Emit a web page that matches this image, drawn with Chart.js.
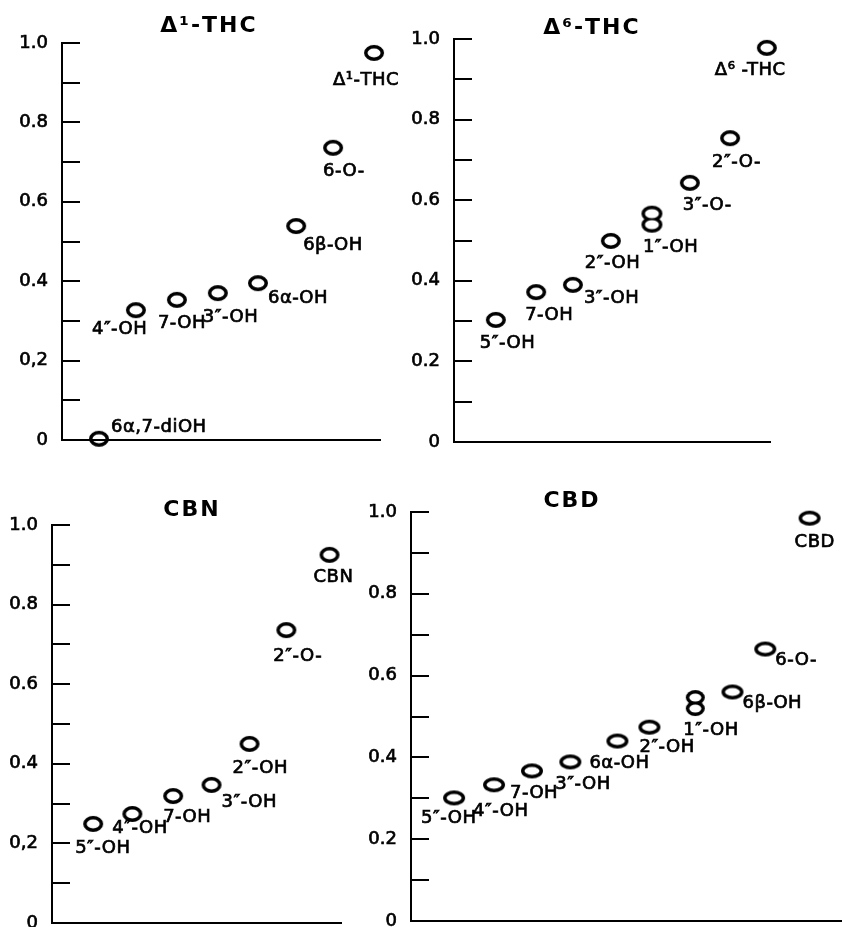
<!DOCTYPE html>
<html>
<head>
<meta charset="utf-8">
<script src="https://cdn.jsdelivr.net/npm/chart.js@4.4.0/dist/chart.umd.min.js"></script>
<style>
  html, body { margin: 0; padding: 0; background: #fff; }
  body { width: 842px; height: 927px; position: relative; overflow: hidden; }
  .panel { position: absolute; }
</style>
</head>
<body>
<div class="panel" style="left:0px;top:0px;width:421px;height:460px"><canvas id="c1"></canvas></div>
<div class="panel" style="left:392px;top:0px;width:450px;height:460px"><canvas id="c2"></canvas></div>
<div class="panel" style="left:0px;top:470px;width:380px;height:457px"><canvas id="c3"></canvas></div>
<div class="panel" style="left:349px;top:470px;width:493px;height:457px"><canvas id="c4"></canvas></div>
<script>
// Rf values
const thc1Spots = ["6α,7-diOH", "4″-OH", "7-OH", "3″-OH", "6α-OH", "6β-OH", "6-O-", "Δ¹-THC"];
const thc1X = [0.93, 1.86, 2.89, 3.92, 4.93, 5.89, 6.82, 7.85];
const thc1Rf = [0.003, 0.327, 0.353, 0.37, 0.395, 0.539, 0.736, 0.975];

const thc6Spots = ["5″-OH", "7-OH", "3″-OH", "2″-OH", "1″-OH", "3″-O-", "2″-O-", "Δ⁶ -THC"];
const thc6X = [1.06, 2.08, 3.01, 3.97, 5.01, 5.97, 6.99, 7.92];
const thc6Rf = [0.303, 0.372, 0.39, 0.499, 0.553, 0.643, 0.754, 0.978];

const cbnSpots = ["5″-OH", "4″-OH", "7-OH", "3″-OH", "2″-OH", "2″-O-", "CBN"];
const cbnX = [1.04, 2.03, 3.06, 4.03, 4.99, 5.92, 7.01];
const cbnRf = [0.249, 0.274, 0.319, 0.347, 0.45, 0.736, 0.925];

const cbdSpots = ["5″-OH", "4″-OH", "7-OH", "3″-OH", "6α-OH", "2″-OH", "1″-OH", "6β-OH", "6-O-", "CBD"];
const cbdX = [1.09, 2.1, 3.06, 4.03, 5.22, 6.03, 7.19, 8.13, 8.96, 10.08];
const cbdRf = [0.301, 0.333, 0.367, 0.389, 0.44, 0.474, 0.533, 0.56, 0.665, 0.985];

const ticksComma = ["0", "", "0,2", "", "0.4", "", "0.6", "", "0.8", "", "1.0"];
const ticksDot = ["0", "", "0.2", "", "0.4", "", "0.6", "", "0.8", "", "1.0"];

// label placement (px from spot centre), kept apart from the data
const thc1Off = [[12, -11], [-44, 19], [-19, 23], [-15, 24], [10, 15], [7, 19], [-10, 24], [-41, 27]];
const thc6Off = [[-16, 23], [-11, 23], [11, 13], [-26, 22], [-9, 28], [-7, 22], [-18, 24], [-52, 22]];
const cbnOff = [[-18, 24], [-20, 14], [-10, 21], [10, 17], [-17, 24], [-13, 26], [-16, 22]];
const cbdOff = [[-33, 20], [-21, 27], [-22, 22], [-15, 22], [-28, 22], [-10, 20], [-12, 27], [10, 11], [10, 11], [-15, 24]];

const FONT = "'DejaVu Sans', sans-serif";

function ellipseMarker(w, h) {
  const c = document.createElement("canvas");
  c.width = w + 2;
  c.height = h + 2;
  const g = c.getContext("2d");
  g.lineWidth = 3.5;
  g.strokeStyle = "#000";
  g.beginPath();
  g.ellipse(c.width / 2, c.height / 2, w / 2 - 1.75, h / 2 - 1.75, 0, 0, Math.PI * 2);
  g.stroke();
  return c;
}

// two merged spots (1''-OH)
function peanutMarker(w, h) {
  const c = document.createElement("canvas");
  c.width = w + 2;
  c.height = h + 2;
  const g = c.getContext("2d");
  const rx = w / 2, ry = (h - 11) / 2, cx = c.width / 2;
  const cy1 = 1 + ry, cy2 = 1 + ry + 11;
  g.fillStyle = "#000";
  g.beginPath(); g.ellipse(cx, cy1, rx, ry, 0, 0, Math.PI * 2); g.fill();
  g.beginPath(); g.ellipse(cx, cy2, rx, ry, 0, 0, Math.PI * 2); g.fill();
  g.globalCompositeOperation = "destination-out";
  g.beginPath(); g.ellipse(cx, cy1, rx - 3.5, ry - 3.5, 0, 0, Math.PI * 2); g.fill();
  g.beginPath(); g.ellipse(cx, cy2, rx - 3.5, ry - 3.5, 0, 0, Math.PI * 2); g.fill();
  return c;
}

const spotLabels = {
  id: "spotLabels",
  afterDatasetsDraw(chart, args, opts) {
    const ctx = chart.ctx;
    const meta = chart.getDatasetMeta(0);
    ctx.save();
    ctx.fillStyle = "#000";
    ctx.strokeStyle = "#000";
    ctx.lineWidth = 0.7;
    ctx.textBaseline = "middle";
    ctx.textAlign = "left";
    ctx.font = "18px " + FONT;
    if ("letterSpacing" in ctx) ctx.letterSpacing = "0.5px";
    meta.data.forEach((pt, i) => {
      const off = opts.offsets[i];
      ctx.fillText(opts.labels[i], pt.x + off[0], pt.y + off[1]);
      ctx.strokeText(opts.labels[i], pt.x + off[0], pt.y + off[1]);
    });
    const a = chart.chartArea;
    ctx.font = "bold 22px " + FONT;
    ctx.textAlign = "center";
    if ("letterSpacing" in ctx) ctx.letterSpacing = "2px";
    ctx.fillText(opts.title, a.left + opts.titleAt[0], a.top + opts.titleAt[1]);
    ctx.restore();
  }
};

function makePanel(id, title, titleAt, xs, rf, names, offsets, tickLabels, xMax, yWidth, pad, marker, peanut) {
  const styles = names.map((n) => (n === "1″-OH" ? peanut : marker));
  new Chart(document.getElementById(id), {
    type: "scatter",
    data: {
      datasets: [{
        data: xs.map((x, i) => ({ x: x, y: rf[i] })),
        pointStyle: styles,
        pointRadius: 9,
        clip: false,
      }],
    },
    options: {
      responsive: true,
      maintainAspectRatio: false,
      animation: false,
      events: [],
      layout: { autoPadding: false, padding: pad },
      plugins: {
        legend: { display: false },
        tooltip: { enabled: false },
        spotLabels: { labels: names, offsets: offsets, title: title, titleAt: titleAt },
      },
      scales: {
        x: {
          type: "linear",
          min: 0,
          max: xMax,
          grid: { display: false },
          border: { display: true, color: "#000", width: 2 },
          ticks: { display: false },
          afterFit: (s) => { s.height = 4; s.paddingLeft = 0; s.paddingRight = 0; },
        },
        y: {
          type: "linear",
          min: 0,
          max: 1,
          grid: {
            display: true,
            drawOnChartArea: false,
            drawTicks: true,
            tickLength: -18,
            color: "#000",
            lineWidth: 2,
          },
          border: { display: true, color: "#000", width: 2 },
          ticks: {
            stepSize: 0.1,
            padding: 32,
            color: "#000",
            textStrokeColor: "#000",
            textStrokeWidth: 0.7,
            font: { family: FONT, size: 18 },
            callback: (v, i) => tickLabels[i],
          },
          afterFit: (s) => { s.width = yWidth; s.paddingTop = 0; s.paddingBottom = 0; },
        },
      },
    },
    plugins: [spotLabels],
  });
}

const mark = ellipseMarker(20, 16);
const markWide = ellipseMarker(22, 15);
const pea = peanutMarker(21, 27);
const peaNarrow = peanutMarker(19, 26);

makePanel("c1", "Δ¹-THC", [147, -17], thc1X, thc1Rf, thc1Spots, thc1Off, ticksComma, 8,
  62, { left: 0, top: 43, right: 41, bottom: 16 }, mark, pea);
makePanel("c2", "Δ⁶-THC", [138, -11], thc6X, thc6Rf, thc6Spots, thc6Off, ticksDot, 8,
  62, { left: 0, top: 39, right: 72, bottom: 14 }, mark, pea);
makePanel("c3", "CBN", [140, -15], cbnX, cbnRf, cbnSpots, cbnOff, ticksComma, 7.3,
  52, { left: 0, top: 55, right: 39, bottom: 0 }, mark, pea);
makePanel("c4", "CBD", [161, -11], cbdX, cbdRf, cbdSpots, cbdOff, ticksDot, 10.9,
  62, { left: 0, top: 42, right: 0, bottom: 2 }, markWide, peaNarrow);
</script>
</body>
</html>
